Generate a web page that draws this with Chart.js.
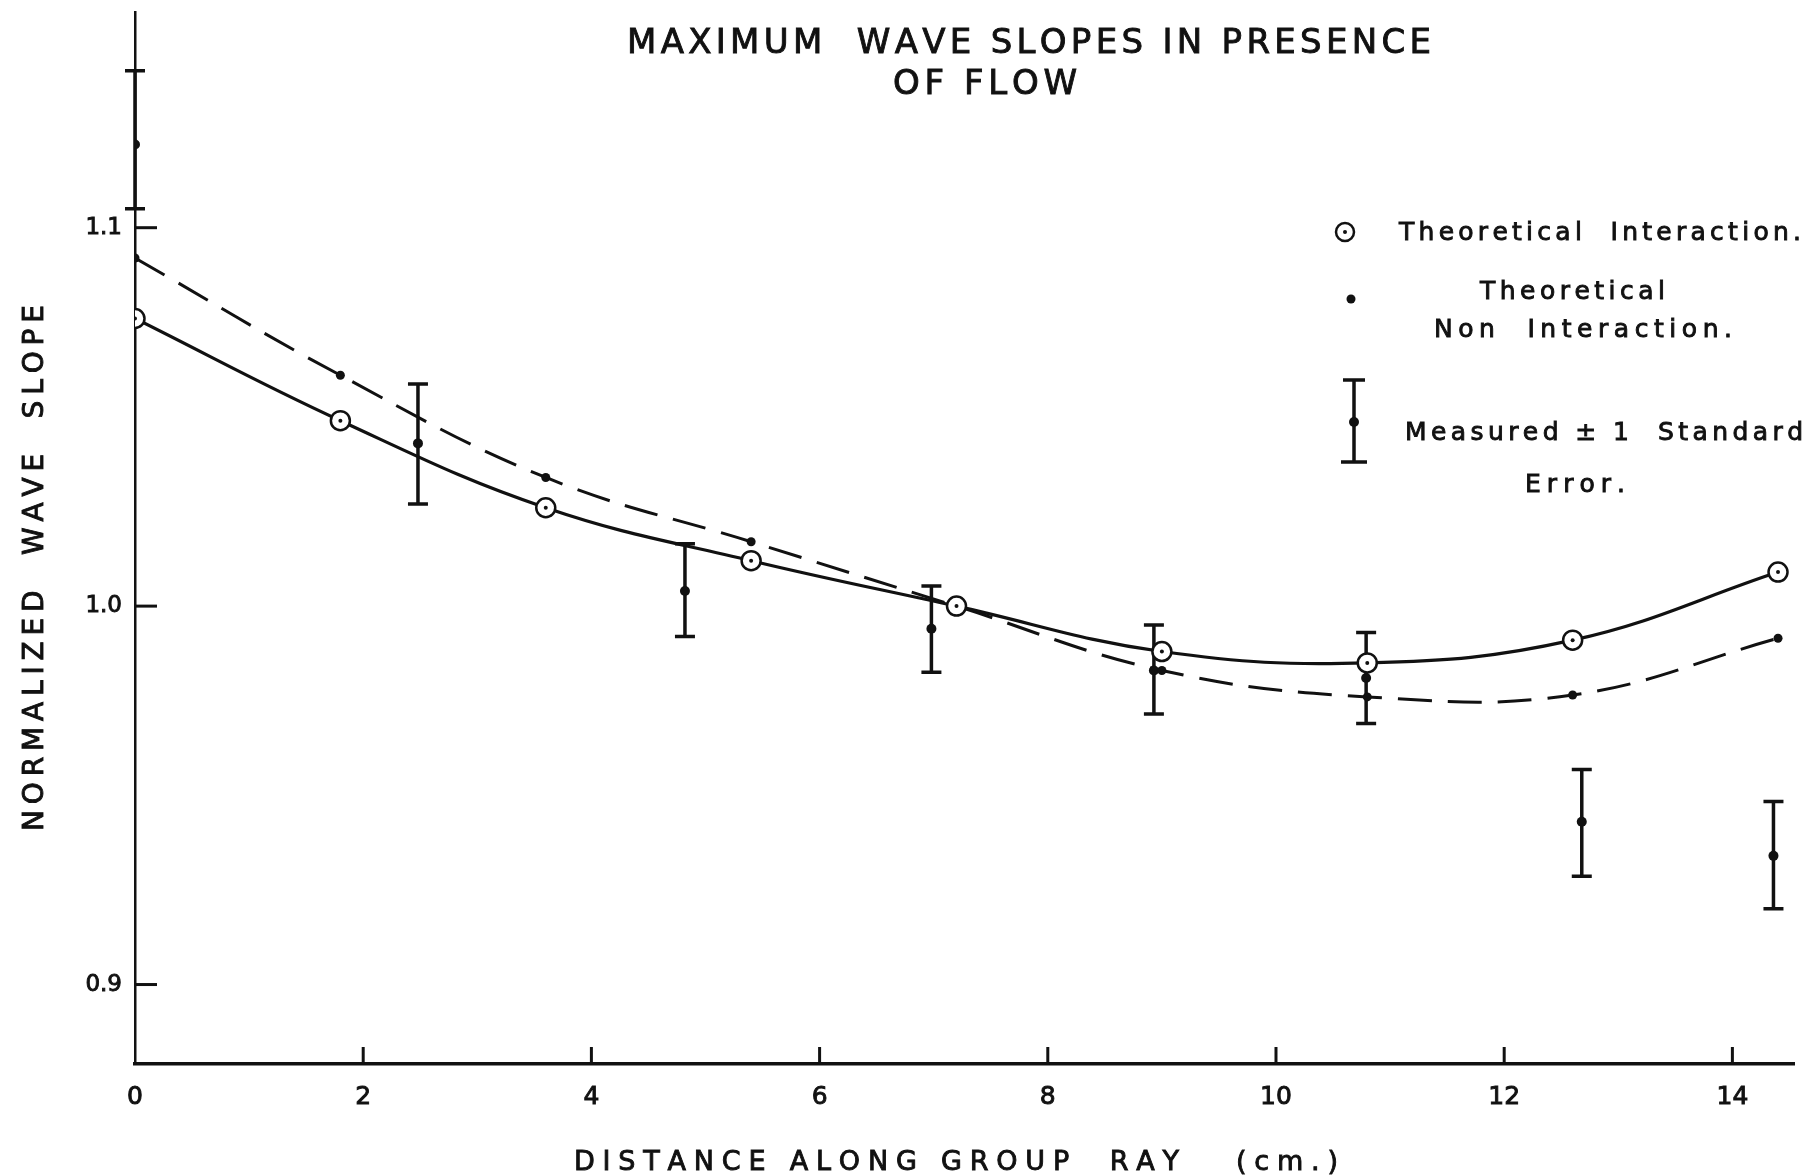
<!DOCTYPE html>
<html>
<head>
<meta charset="utf-8">
<script src="https://cdn.jsdelivr.net/npm/chart.js@4.4.1/dist/chart.umd.min.js"></script>
<style>
  html, body { margin: 0; padding: 0; background: #fff; }
  #wrap { width: 1814px; height: 1175px; position: relative; }
</style>
</head>
<body>
<div id="wrap"><canvas id="mainChart" width="1814" height="1175"></canvas></div>
<script>
// distance along group ray (cm)
const xTheory = [0, 1.8, 3.6, 5.4, 7.2, 9.0, 10.8, 12.6, 14.4];
const interaction = [1.076, 1.049, 1.026, 1.012, 1.000, 0.988, 0.985, 0.991, 1.009];
const nonInteraction = [1.092, 1.061, 1.034, 1.017, 1.000, 0.983, 0.976, 0.9765, 0.9915];

const xMeasured = [0, 2.48, 4.82, 6.98, 8.93, 10.79, 12.68, 14.36];
const measuredMean = [1.122, 1.043, 1.004, 0.994, 0.983, 0.981, 0.943, 0.934];
const measuredLow = [1.105, 1.027, 0.992, 0.9825, 0.9715, 0.969, 0.9286, 0.920];
const measuredHigh = [1.1415, 1.0587, 1.0165, 1.0053, 0.995, 0.993, 0.9568, 0.9484];

const xTicks = [0, 2, 4, 6, 8, 10, 12, 14];
const yTicks = [0.9, 1.0, 1.1];
const yTickLabels = ['0.9', '1.0', '1.1'];

const FONT = "'DejaVu Sans', sans-serif";
const INK = '#111';

function pts(xs, ys) {
    return xs.map((x, i) => ({ x: x, y: ys[i] }));
}

// draw text char by char, stretched to a given width (hand lettering look)
function spaced(ctx, text, x, y, width) {
    const ws = [...text].map(c => ctx.measureText(c).width);
    const natural = ws.reduce((a, b) => a + b, 0);
    const extra = text.length > 1 ? (width - natural) / (text.length - 1) : 0;
    let cx = x;
    [...text].forEach((c, i) => {
        ctx.fillText(c, cx, y);
        if (c !== ' ') ctx.strokeText(c, cx, y);
        cx += ws[i] + extra;
    });
}

const decorPlugin = {
    id: 'decor',
    beforeDatasetsDraw(chart) {
        const ctx = chart.ctx;
        const xs = chart.scales.x, ys = chart.scales.y;
        const area = chart.chartArea;
        ctx.save();
        ctx.strokeStyle = INK;
        ctx.fillStyle = INK;

        // inward tick marks
        ctx.lineWidth = 3;
        xTicks.forEach(v => {
            if (v === 0) return;
            const px = xs.getPixelForValue(v);
            ctx.beginPath();
            ctx.moveTo(px, area.bottom);
            ctx.lineTo(px, area.bottom - 17);
            ctx.stroke();
        });
        yTicks.forEach(v => {
            const py = ys.getPixelForValue(v);
            ctx.beginPath();
            ctx.moveTo(area.left, py);
            ctx.lineTo(area.left + 22, py);
            ctx.stroke();
        });

        // error bars
        ctx.lineWidth = 3.5;
        xMeasured.forEach((v, i) => {
            const px = xs.getPixelForValue(v);
            const top = ys.getPixelForValue(measuredHigh[i]);
            const bot = ys.getPixelForValue(measuredLow[i]);
            ctx.beginPath();
            ctx.moveTo(px, top); ctx.lineTo(px, bot);
            ctx.moveTo(px - 10, top); ctx.lineTo(px + 10, top);
            ctx.moveTo(px - 10, bot); ctx.lineTo(px + 10, bot);
            ctx.stroke();
        });
        ctx.restore();
    },
    afterDraw(chart) {
        const ctx = chart.ctx;
        ctx.save();
        ctx.fillStyle = INK;
        ctx.strokeStyle = INK;
        ctx.lineWidth = 0.9;
        ctx.textBaseline = 'alphabetic';

        // title
        ctx.font = '34px ' + FONT;
        spaced(ctx, 'MAXIMUM  WAVE SLOPES IN PRESENCE', 627, 53, 804);
        spaced(ctx, 'OF FLOW', 893, 94, 184);

        // axis titles
        ctx.font = '27px ' + FONT;
        spaced(ctx, 'DISTANCE ALONG GROUP  RAY   (cm.)', 574, 1170, 764);
        ctx.save();
        ctx.translate(43, 831);
        ctx.rotate(-Math.PI / 2);
        ctx.font = '28px ' + FONT;
        spaced(ctx, 'NORMALIZED  WAVE  SLOPE', 0, 0, 526);
        ctx.restore();

        // legend
        ctx.lineWidth = 2.5;
        ctx.beginPath();
        ctx.arc(1345, 232, 9, 0, Math.PI * 2);
        ctx.stroke();
        ctx.beginPath();
        ctx.arc(1345, 232, 2, 0, Math.PI * 2);
        ctx.fill();
        ctx.beginPath();
        ctx.arc(1351, 299, 4.5, 0, Math.PI * 2);
        ctx.fill();
        ctx.lineWidth = 3.5;
        ctx.beginPath();
        ctx.moveTo(1354, 380); ctx.lineTo(1354, 462);
        ctx.moveTo(1343, 380); ctx.lineTo(1365, 380);
        ctx.moveTo(1341, 462); ctx.lineTo(1367, 462);
        ctx.stroke();
        ctx.beginPath();
        ctx.arc(1354, 422, 5, 0, Math.PI * 2);
        ctx.fill();

        ctx.lineWidth = 0.9;
        ctx.font = '25px ' + FONT;
        spaced(ctx, 'Theoretical  Interaction.', 1399, 240, 402);
        spaced(ctx, 'Theoretical', 1480, 299, 185);
        spaced(ctx, 'Non  Interaction.', 1434, 337, 298);
        spaced(ctx, 'Measured \u00b1 1  Standard', 1405, 440, 398);
        spaced(ctx, 'Error.', 1525, 492, 100);
        ctx.restore();
    }
};

function initChart() {
    const ctx = document.getElementById('mainChart').getContext('2d');
    Chart.defaults.color = INK;
    Chart.defaults.font.family = FONT;

    new Chart(ctx, {
        type: 'scatter',
        data: {
            datasets: [
                { label: 'centre', data: pts(xTheory, interaction), showLine: false,
                  pointRadius: 2, pointBackgroundColor: INK, pointBorderWidth: 0, order: 0 },
                { label: 'Theoretical Interaction', data: pts(xTheory, interaction), showLine: true,
                  borderColor: INK, borderWidth: 3.2, tension: 0.4,
                  pointRadius: 9.5, pointBackgroundColor: '#fff', pointBorderColor: INK, pointBorderWidth: 2.5, order: 1 },
                { label: 'Theoretical Non Interaction', data: pts(xTheory, nonInteraction), showLine: true,
                  borderColor: INK, borderWidth: 3, borderDash: [34, 16], tension: 0.4,
                  pointRadius: 4.5, pointBackgroundColor: INK, pointBorderWidth: 0, order: 2 },
                { label: 'Measured', data: pts(xMeasured, measuredMean), showLine: false,
                  pointRadius: 5, pointBackgroundColor: INK, pointBorderWidth: 0, order: 3 }
            ]
        },
        options: {
            responsive: false, animation: false,
            layout: { padding: { left: 0, top: 10, right: 20, bottom: 0 } },
            plugins: { legend: { display: false }, tooltip: { enabled: false }, title: { display: false } },
            scales: {
                x: {
                    type: 'linear', min: 0, max: 14.54,
                    grid: { display: false },
                    border: { display: true, color: INK, width: 3.5 },
                    afterBuildTicks: s => { s.ticks = xTicks.map(v => ({ value: v })); },
                    afterFit: s => { s.height = 1175 - 1064; s.paddingLeft = 0; s.paddingRight = 0; },
                    ticks: { padding: 10, font: { size: 25 }, color: INK, maxRotation: 0,
                             textStrokeColor: INK, textStrokeWidth: 0.9 }
                },
                y: {
                    type: 'linear', min: 0.879, max: 1.157,
                    grid: { display: false },
                    border: { display: true, color: INK, width: 2.5 },
                    afterBuildTicks: s => { s.ticks = yTicks.map(v => ({ value: v })); },
                    afterFit: s => { s.width = 135; s.paddingTop = 0; s.paddingBottom = 0; },
                    ticks: { padding: 5, font: { size: 23 }, color: INK,
                             textStrokeColor: INK, textStrokeWidth: 0.9,
                             callback: (v) => yTickLabels[yTicks.indexOf(v)] }
                }
            }
        },
        plugins: [decorPlugin]
    });
}

initChart();
</script>
</body>
</html>
